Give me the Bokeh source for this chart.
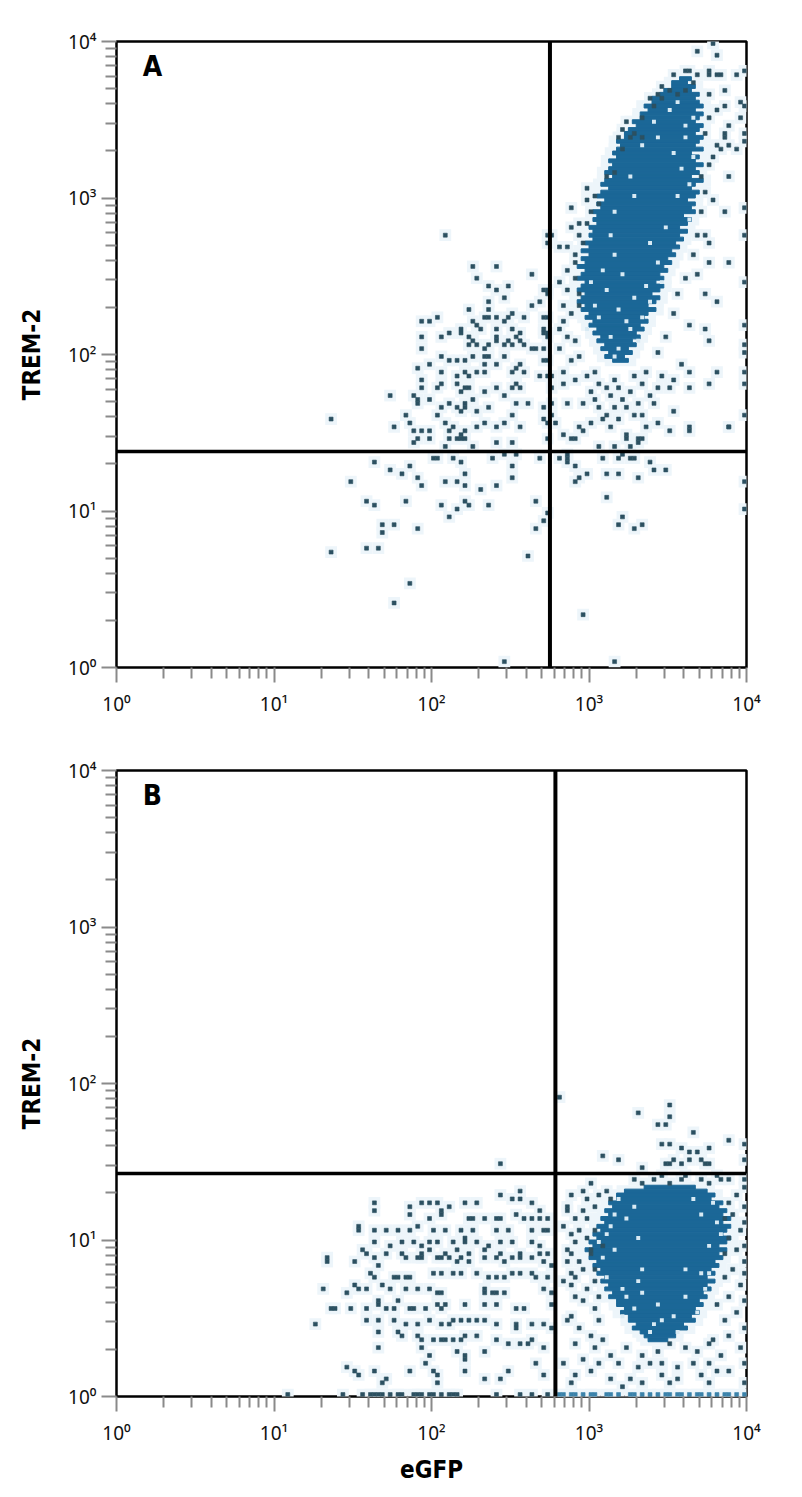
import numpy as np
from bokeh.plotting import figure
from bokeh.models import Range1d, Span, Label, CustomJSTickFormatter, FixedTicker
from bokeh.layouts import column
from bokeh.embed import file_html
from bokeh.resources import INLINE

# ---------------------------------------------------------------------------
# Data: 2-D histogram, on a 160-channel log grid
# (channel i covers 10^(i*BIN) .. 10^((i+1)*BIN)), x = eGFP, y = TREM-2
# ---------------------------------------------------------------------------
BIN = 0.025

x_tick_values = [1, 10, 100, 1000, 10000]
x_axis_label = "eGFP"
y_axis_label = "TREM-2"
panel_letters = ["A", "B"]

# quadrant gates (data units)
gate_A = (565, 24.0)
gate_B = (612, 26.6)

# ---- Panel A: dense population (row channel, first channel, last channel)
A_core_row = [150, 149, 148, 147, 146, 145, 144, 143, 142, 141, 140, 139, 138, 137, 136, 135,
              134, 133, 132, 131, 130, 129, 128, 127, 126, 125, 124, 123, 122, 121, 120, 119,
              118, 117, 116, 115, 114, 113, 112, 111, 110, 109, 108, 107, 106, 105, 104, 103,
              102, 101, 100, 99, 98, 97, 96, 95, 94, 93, 92, 91, 90, 89, 88, 87, 86, 85, 84,
              83, 82, 81, 80, 79, 78]
A_core_start = [143, 141, 141, 139, 138, 136, 136, 134, 135, 133, 133, 131, 132, 130, 129, 129,
                127, 128, 127, 126, 127, 125, 126, 125, 124, 126, 124, 123, 125, 123, 122, 124,
                122, 123, 121, 122, 121, 122, 120, 121, 120, 121, 119, 120, 118, 120, 118, 119,
                117, 119, 118, 117, 119, 118, 117, 119, 118, 117, 119, 118, 120, 119, 121, 120,
                122, 121, 123, 122, 124, 123, 125, 124, 126]
A_core_end = [145, 144, 146, 145, 147, 146, 147, 148, 146, 148, 147, 146, 148, 147, 146, 148,
              147, 146, 148, 145, 147, 146, 148, 146, 147, 145, 148, 146, 145, 147, 146, 144,
              146, 145, 146, 143, 145, 144, 142, 144, 142, 143, 141, 142, 140, 141, 139, 140,
              138, 139, 137, 138, 136, 138, 137, 135, 137, 136, 134, 136, 134, 133, 134, 132,
              133, 131, 132, 130, 131, 129, 130, 128, 129]
A_holes = [(144, 138), (137, 135), (144, 135), (133, 133), (131, 120), (142, 120), (145, 123),
           (126, 116), (145, 114), (125, 110), (126, 105), (137, 103), (131, 94), (135, 93),
           (127, 91), (122, 89), (130, 86), (125, 84), (132, 83), (119, 86), (140, 142),
           (146, 130), (143, 127), (139, 112), (128, 100), (134, 97), (124, 96), (129, 88),
           (127, 81), (136, 139), (141, 131), (130, 125), (135, 108), (123, 101), (142, 144),
           (146, 140), (121, 92), (126, 79), (133, 89), (120, 98), (138, 98)]

# ---- Panel A: single events, upper-left quadrant
A_dots_ul = [(83, 110), (109, 110), (109, 108), (90, 102), (96, 102), (91, 99), (105, 100), (94, 97),
             (96, 96), (99, 97), (98, 94), (108, 96), (109, 95), (94, 93), (89, 91), (105, 92),
             (107, 93), (94, 91), (77, 88), (79, 88), (81, 89), (90, 88), (93, 89), (94, 89),
             (96, 89), (98, 88), (99, 89), (100, 90), (103, 89), (108, 89), (91, 87), (92, 86),
             (96, 86), (100, 86), (87, 86), (87, 85), (84, 85), (82, 84), (77, 84), (102, 85),
             (101, 84), (108, 85), (109, 85), (89, 84), (96, 84), (77, 81), (89, 82), (90, 83),
             (91, 82), (93, 81), (94, 82), (96, 83), (98, 82), (99, 83), (100, 82), (102, 83),
             (103, 82), (105, 81), (106, 81), (108, 81), (82, 79), (84, 78), (86, 78), (88, 78),
             (90, 79), (93, 79), (93, 77), (94, 79), (96, 77), (98, 79), (101, 76), (102, 77),
             (108, 78), (109, 78), (76, 76), (79, 77), (82, 75), (86, 74), (88, 75), (89, 74),
             (91, 75), (93, 75), (100, 75), (103, 75), (101, 72), (102, 71), (100, 71), (107, 74),
             (109, 74), (77, 73), (77, 71), (82, 72), (81, 71), (86, 72), (88, 71), (87, 70),
             (89, 71), (93, 70), (96, 71), (69, 69), (75, 69), (76, 68), (76, 67), (79, 68),
             (82, 66), (84, 67), (86, 66), (88, 67), (87, 65), (88, 66), (90, 68), (91, 65),
             (94, 66), (98, 69), (101, 67), (104, 67), (108, 66), (54, 63), (70, 61), (73, 64),
             (74, 62), (75, 60), (77, 60), (76, 58), (79, 60), (81, 64), (83, 62), (85, 61),
             (84, 60), (87, 59), (88, 60), (91, 61), (93, 62), (96, 61), (98, 62), (100, 64),
             (102, 61), (108, 63), (109, 62), (75, 57), (79, 58), (84, 58), (86, 58), (87, 58),
             (88, 58), (96, 57), (100, 57), (109, 58), (83, 56), (90, 56)]

# ---- Panel A: single events below the horizontal gate
A_dots_low = [(65, 52), (59, 47), (69, 50), (72, 49), (74, 51), (80, 53), (81, 53), (85, 53), (87, 52),
              (95, 53), (98, 54), (101, 54), (100, 51), (107, 53), (76, 48), (77, 46), (83, 47),
              (86, 47), (88, 49), (88, 46), (92, 45), (96, 46), (100, 48), (63, 42), (65, 41),
              (73, 42), (82, 41), (86, 40), (84, 38), (88, 42), (89, 41), (94, 41), (106, 42),
              (109, 39), (108, 37), (106, 35), (67, 36), (70, 36), (67, 34), (76, 35), (54, 29),
              (63, 30), (66, 30), (104, 28), (74, 21), (70, 16), (98, 1), (112, 53), (114, 54),
              (114, 53), (114, 52), (116, 51), (119, 49), (116, 47), (117, 48), (123, 53),
              (127, 53), (128, 54), (130, 53), (131, 53), (124, 49), (127, 49), (132, 48),
              (135, 52), (136, 50), (139, 50), (159, 47), (159, 40), (124, 43), (128, 38),
              (127, 36), (131, 35), (133, 36), (118, 13), (126, 1)]

# ---- Panel A: single events in the upper-right quadrant around the population
A_dots_ur = [(110, 110), (112, 107), (114, 107), (116, 103), (114, 101), (116, 105), (109, 96),
             (109, 89), (108, 86), (109, 84), (110, 74), (112, 98), (114, 96), (113, 92), (115, 90),
             (113, 88), (112, 86), (114, 84), (116, 83), (112, 81), (115, 78), (117, 79), (113, 75),
             (110, 71), (113, 72), (116, 73), (110, 67), (114, 67), (118, 67), (121, 68), (122, 66),
             (124, 71), (126, 73), (110, 64), (111, 62), (116, 58), (117, 61), (123, 63), (125, 61),
             (129, 66), (131, 64), (133, 64), (136, 67), (132, 67), (137, 62), (134, 61), (132, 58),
             (129, 59), (140, 60), (145, 61), (155, 61), (141, 65), (115, 58), (122, 56), (126, 56),
             (129, 58), (130, 56), (132, 57), (133, 58), (120, 70), (122, 72), (125, 69), (127, 71),
             (128, 68), (130, 70), (133, 72), (135, 69), (137, 71), (126, 66), (119, 74), (121, 75),
             (131, 74), (134, 75), (138, 74), (124, 64), (127, 63), (120, 62), (118, 60), (113, 59),
             (149, 110), (159, 110), (150, 103), (155, 103), (159, 98), (149, 95), (152, 93),
             (145, 87), (149, 86), (159, 87), (150, 83), (159, 82), (159, 80), (145, 75), (152, 75),
             (159, 75), (159, 72), (150, 72), (143, 77), (141, 73), (140, 71), (145, 71), (159, 64),
             (155, 61), (145, 60), (151, 159), (152, 156), (147, 157), (159, 152), (145, 152),
             (147, 151), (150, 152), (150, 151), (152, 151), (153, 151), (157, 151), (138, 148),
             (154, 147), (158, 144), (159, 143), (158, 140), (152, 142), (154, 143), (155, 138),
             (154, 136), (159, 134), (159, 136), (157, 132), (155, 133), (152, 133), (153, 132),
             (154, 135), (150, 128), (151, 130), (155, 125), (159, 117), (154, 116), (151, 119),
             (119, 122), (115, 117), (128, 137), (129, 139), (127, 135), (130, 135), (128, 132),
             (131, 136), (133, 135), (135, 145), (138, 145), (137, 146), (140, 147), (142, 146),
             (144, 147), (126, 126), (124, 125), (121, 120), (122, 118), (119, 113), (117, 113),
             (115, 112), (148, 125), (149, 121), (148, 116), (147, 110), (146, 105), (144, 99),
             (142, 95), (141, 90), (139, 84), (137, 80), (147, 100), (150, 108), (117, 95),
             (116, 99), (117, 92), (118, 108), (117, 110), (120, 116), (119, 119), (141, 151),
             (144, 152), (146, 149), (136, 143), (133, 140), (150, 140), (149, 136), (150, 146)]

# ---- Panel B: dense population
B_core_row = [53, 52, 51, 50, 49, 48, 47, 46, 45, 44, 43, 42, 41, 40, 39, 38, 37, 36, 35, 34,
              33, 32, 31, 30, 29, 28, 27, 26, 25, 24, 23, 22, 21, 20, 19, 18, 17, 16, 15, 14]
B_core_start = [134, 129, 127, 127, 125, 126, 124, 125, 123, 124, 122, 123, 121, 122, 120, 121,
                119, 121, 120, 122, 121, 123, 122, 124, 123, 125, 124, 126, 125, 127, 127, 129,
                128, 130, 130, 132, 131, 133, 134, 135]
B_core_end = [146, 149, 151, 150, 153, 152, 154, 153, 155, 153, 155, 154, 153, 155, 154, 152,
              154, 152, 153, 151, 152, 150, 151, 149, 151, 149, 150, 148, 149, 147, 148, 146,
              147, 145, 146, 143, 144, 141, 141, 139]
B_holes = [(148, 46), (144, 32), (148, 31), (150, 31), (132, 40), (126, 37), (128, 27), (132, 29),
           (133, 26), (137, 23), (141, 20), (138, 19), (128, 20), (126, 46), (129, 45), (152, 44),
           (150, 38), (129, 25), (144, 25), (133, 32), (124, 41), (123, 35), (151, 49), (146, 50),
           (127, 50), (124, 30), (142, 16), (135, 16), (131, 48), (153, 41), (122, 39), (147, 21),
           (125, 43), (149, 27), (136, 18), (131, 22)]

# ---- Panel B: single events, lower-left quadrant
B_dots_left = [(102, 52), (100, 50), (102, 50), (97, 51), (65, 49), (77, 49), (79, 49), (81, 49),
               (88, 49), (91, 49), (105, 49), (65, 47), (74, 48), (74, 46), (82, 46), (82, 47),
               (84, 48), (101, 46), (107, 47), (79, 45), (89, 45), (90, 45), (93, 45), (96, 45),
               (97, 45), (103, 45), (105, 45), (107, 45), (109, 45), (61, 42), (65, 42), (68, 42),
               (71, 42), (74, 42), (76, 43), (80, 42), (83, 42), (87, 42), (90, 42), (96, 42),
               (99, 42), (105, 42), (108, 42), (109, 42), (65, 39), (69, 38), (72, 39), (75, 39),
               (77, 38), (79, 39), (81, 39), (85, 39), (88, 40), (88, 39), (91, 39), (94, 38),
               (97, 39), (100, 39), (105, 39), (107, 38), (62, 37), (63, 36), (68, 36), (72, 36),
               (77, 36), (79, 37), (83, 36), (86, 37), (89, 36), (93, 37), (97, 36), (102, 36),
               (107, 36), (109, 36), (53, 35), (60, 34), (65, 35), (66, 33), (73, 35), (76, 35),
               (77, 35), (81, 35), (82, 35), (84, 35), (86, 34), (87, 35), (89, 34), (93, 35),
               (96, 35), (98, 34), (100, 35), (102, 35), (105, 35), (108, 34), (110, 33), (64, 31),
               (65, 30), (70, 30), (71, 30), (73, 30), (74, 30), (80, 31), (82, 31), (85, 31),
               (87, 31), (91, 31), (94, 30), (96, 30), (98, 30), (100, 31), (102, 31), (105, 31),
               (106, 30), (109, 30), (52, 27), (58, 26), (61, 27), (63, 27), (67, 28), (69, 27),
               (73, 27), (76, 27), (79, 27), (81, 26), (82, 26), (93, 27), (93, 26), (95, 26),
               (96, 26), (98, 26), (108, 27), (110, 26), (55, 22), (59, 22), (63, 22), (66, 23),
               (66, 24), (68, 22), (70, 22), (71, 24), (74, 22), (75, 22), (78, 22), (81, 23),
               (82, 22), (83, 23), (88, 23), (93, 23), (96, 23), (101, 22), (103, 22), (110, 23),
               (50, 18), (63, 19), (66, 19), (70, 19), (73, 18), (76, 18), (79, 19), (82, 18),
               (84, 18), (85, 19), (87, 19), (89, 19), (91, 19), (93, 19), (96, 18), (101, 18),
               (101, 17), (105, 18), (108, 18), (110, 17), (66, 16), (71, 16), (72, 15), (76, 15),
               (77, 14), (80, 14), (82, 14), (83, 14), (85, 14), (87, 14), (88, 15), (91, 15),
               (96, 14), (99, 13), (102, 13), (104, 13), (105, 14), (108, 12), (66, 12), (77, 12),
               (79, 10), (86, 11), (88, 10), (93, 11), (88, 9), (78, 8), (58, 7), (60, 6), (61, 5),
               (65, 6), (68, 4), (67, 3), (74, 6), (80, 6), (81, 5), (81, 3), (88, 6), (93, 4),
               (97, 4), (99, 6), (106, 8), (108, 5), (61, 43), (60, 28), (54, 22), (53, 34),
               (43, 0), (57, 0), (62, 0), (64, 0), (65, 0), (66, 0), (67, 0), (69, 0), (71, 0),
               (72, 0), (75, 0), (76, 0), (77, 0), (79, 0), (80, 0), (82, 0), (84, 0), (85, 0),
               (86, 0), (96, 0), (102, 0), (105, 0), (109, 0)]

# ---- Panel B: single events above the horizontal gate
B_dots_upper = [(97, 59), (112, 76), (140, 74), (140, 71), (132, 72), (137, 69), (139, 69), (146, 67),
                (155, 65), (159, 64), (138, 64), (140, 64), (143, 63), (145, 62), (147, 62), (150, 63),
                (123, 61), (127, 60), (141, 60), (139, 59), (145, 60), (148, 60), (149, 59), (150, 59),
                (159, 60), (133, 58), (143, 59), (140, 59)]

# ---- Panel B: single events around the lower-right population
B_dots_right = [(120, 54), (118, 52), (115, 51), (119, 50), (114, 48), (114, 47), (118, 47), (122, 51),
                (124, 52), (125, 50), (121, 48), (116, 45), (113, 43), (119, 45), (117, 42), (115, 41),
                (121, 42), (119, 40), (116, 39), (114, 37), (120, 37), (123, 38), (115, 36), (117, 34),
                (114, 34), (120, 36), (121, 32), (118, 32), (115, 31), (116, 30), (113, 29), (121, 29),
                (119, 27), (116, 25), (115, 28), (122, 25), (118, 24), (121, 22), (115, 20), (114, 19),
                (122, 19), (117, 17), (120, 15), (123, 14), (116, 13), (121, 12), (125, 10), (118, 9),
                (113, 8), (120, 6), (122, 8), (116, 5), (125, 4), (115, 3),
                (153, 55), (155, 55), (159, 55), (159, 53), (157, 51), (155, 49), (159, 48), (156, 46),
                (154, 45), (159, 44), (158, 42), (155, 40), (159, 38), (157, 37), (154, 36), (159, 34),
                (156, 32), (159, 31), (154, 30), (158, 28), (155, 25), (159, 24), (152, 23), (157, 21),
                (154, 19), (159, 17), (155, 15), (151, 14), (158, 12), (153, 10), (159, 8), (155, 6),
                (150, 3), (159, 3),
                (129, 12), (133, 10), (137, 11), (140, 13), (144, 12), (147, 11), (150, 13), (127, 8),
                (132, 7), (135, 8), (138, 8), (142, 7), (146, 8), (150, 8), (130, 4), (133, 3),
                (138, 5), (140, 3), (142, 4), (148, 5), (152, 6), (128, 2),
                (131, 55), (133, 54), (136, 55), (138, 56), (140, 54), (143, 55), (144, 56), (148, 55),
                (150, 54), (152, 56)]
B_bottom_row_x = [112, 113, 115, 116, 118, 120, 121, 124, 125, 127, 130, 131, 133, 135, 137, 139,
                  140, 142, 143, 145, 147, 148, 150, 152, 154, 155, 157, 159]

# ---------------------------------------------------------------------------
DOT = "#2c5061"
CORE = "#1b6797"
HALO = "#edf5fa"
HOLE = "#d8eaf4"
EDGE = "#3b83ab"
LABEL_FONT = "DejaVu Sans Condensed"
TICK_FONT = "Noto Sans"


def ch(i):
    return 10 ** (np.asarray(i, dtype=float) * BIN)


def make_panel(letter, core_row, core_start, core_end, holes, dots, edge_dots, gate,
               border_top, border_bottom, show_xlabel):
    p = figure(frame_width=630, frame_height=626,
               x_axis_type="log", y_axis_type="log",
               x_range=Range1d(1, 1e4), y_range=Range1d(1, 1e4),
               output_backend="svg", toolbar_location=None,
               min_border_left=116, min_border_right=40,
               min_border_top=border_top, min_border_bottom=border_bottom)
    p.background_fill_color = "white"
    p.border_fill_color = "white"
    p.outline_line_color = "black"
    p.outline_line_width = 2.5
    p.grid.visible = False

    cr = np.array(core_row)
    cs = np.array(core_start)
    ce = np.array(core_end)
    dx = np.array([d[0] for d in dots + edge_dots])
    dy = np.array([d[1] for d in dots + edge_dots])
    hx = np.array([h[0] for h in holes])
    hy = np.array([h[1] for h in holes])

    # soft halo (smoothed density) under the events
    p.quad(left=ch(cs - 2), right=ch(ce + 3), bottom=ch(cr - 1), top=ch(cr + 2),
           fill_color=HALO, line_color=None)
    p.quad(left=ch(dx - 1), right=ch(dx + 2), bottom=ch(dy - 1), top=ch(dy + 2),
           fill_color=HALO, line_color=None)
    # dense population
    p.quad(left=ch(cs), right=ch(ce + 1), bottom=ch(cr), top=ch(cr + 1),
           fill_color=CORE, line_color=CORE, line_width=1)
    p.quad(left=ch(hx), right=ch(hx + 1), bottom=ch(hy), top=ch(hy + 1),
           fill_color=HOLE, line_color=None)
    # single events
    sx = np.array([d[0] for d in dots])
    sy = np.array([d[1] for d in dots])
    p.quad(left=ch(sx), right=ch(sx + 1), bottom=ch(sy), top=ch(sy + 1),
           fill_color=DOT, line_color=DOT, line_width=0.6)
    if edge_dots:
        ex = np.array([d[0] for d in edge_dots])
        ey = np.array([d[1] for d in edge_dots])
        p.quad(left=ch(ex), right=ch(ex + 1), bottom=ch(ey), top=ch(ey + 1),
               fill_color=EDGE, line_color=EDGE, line_width=0.6)

    # quadrant gates
    p.add_layout(Span(location=gate[0], dimension="height", line_color="black", line_width=4))
    p.add_layout(Span(location=gate[1], dimension="width", line_color="black", line_width=3.5))

    # panel letter
    p.add_layout(Label(x=1.47, y=8780, text=letter, text_baseline="top", text_align="left",
                       text_font=LABEL_FONT, text_font_style="bold", text_font_size="28px",
                       text_color="black"))

    minor = [m * 10 ** d for d in range(4) for m in range(2, 10)]
    fmt = CustomJSTickFormatter(code="""
        const e = Math.round(Math.log10(tick));
        const sup = ['\u2070', '\u00b9', '\u00b2', '\u00b3', '\u2074'];
        return '10' + sup[e];
    """)
    for ax in (p.xaxis[0], p.yaxis[0]):
        ax.ticker = FixedTicker(ticks=x_tick_values, minor_ticks=minor)
        ax.formatter = fmt
        ax.axis_line_color = None
        ax.major_tick_line_color = "#8a8a8a"
        ax.minor_tick_line_color = "#8a8a8a"
        ax.major_tick_line_width = 2
        ax.minor_tick_line_width = 2
        ax.major_tick_out = 15
        ax.major_tick_in = 0
        ax.minor_tick_out = 11
        ax.minor_tick_in = 0
        ax.major_label_text_font = TICK_FONT
        ax.major_label_text_font_size = "19px"
        ax.major_label_text_color = "#111111"
    p.yaxis[0].major_label_standoff = 5
    p.xaxis[0].major_label_standoff = 8
    p.yaxis[0].major_label_orientation = "horizontal"

    p.yaxis[0].axis_label = y_axis_label
    p.yaxis[0].axis_label_text_font = LABEL_FONT
    p.yaxis[0].axis_label_text_font_style = "bold"
    p.yaxis[0].axis_label_text_font_size = "24px"
    p.yaxis[0].axis_label_text_color = "black"
    p.yaxis[0].axis_label_standoff = 19
    if show_xlabel:
        p.xaxis[0].axis_label = x_axis_label
        p.xaxis[0].axis_label_text_font = LABEL_FONT
        p.xaxis[0].axis_label_text_font_style = "bold"
        p.xaxis[0].axis_label_text_font_size = "24px"
        p.xaxis[0].axis_label_text_color = "black"
        p.xaxis[0].axis_label_standoff = 7
    return p


pA = make_panel(panel_letters[0], A_core_row, A_core_start, A_core_end, A_holes,
                A_dots_ul + A_dots_low + A_dots_ur, [], gate_A, 41, 50, False)
pB = make_panel(panel_letters[1], B_core_row, B_core_start, B_core_end, B_holes,
                B_dots_left + B_dots_upper + B_dots_right,
                [(x, 0) for x in B_bottom_row_x], gate_B, 51, 90, True)

layout = column(pA, pB, spacing=0)
open("out.html", "w", encoding="utf-8").write(file_html(layout, INLINE))
